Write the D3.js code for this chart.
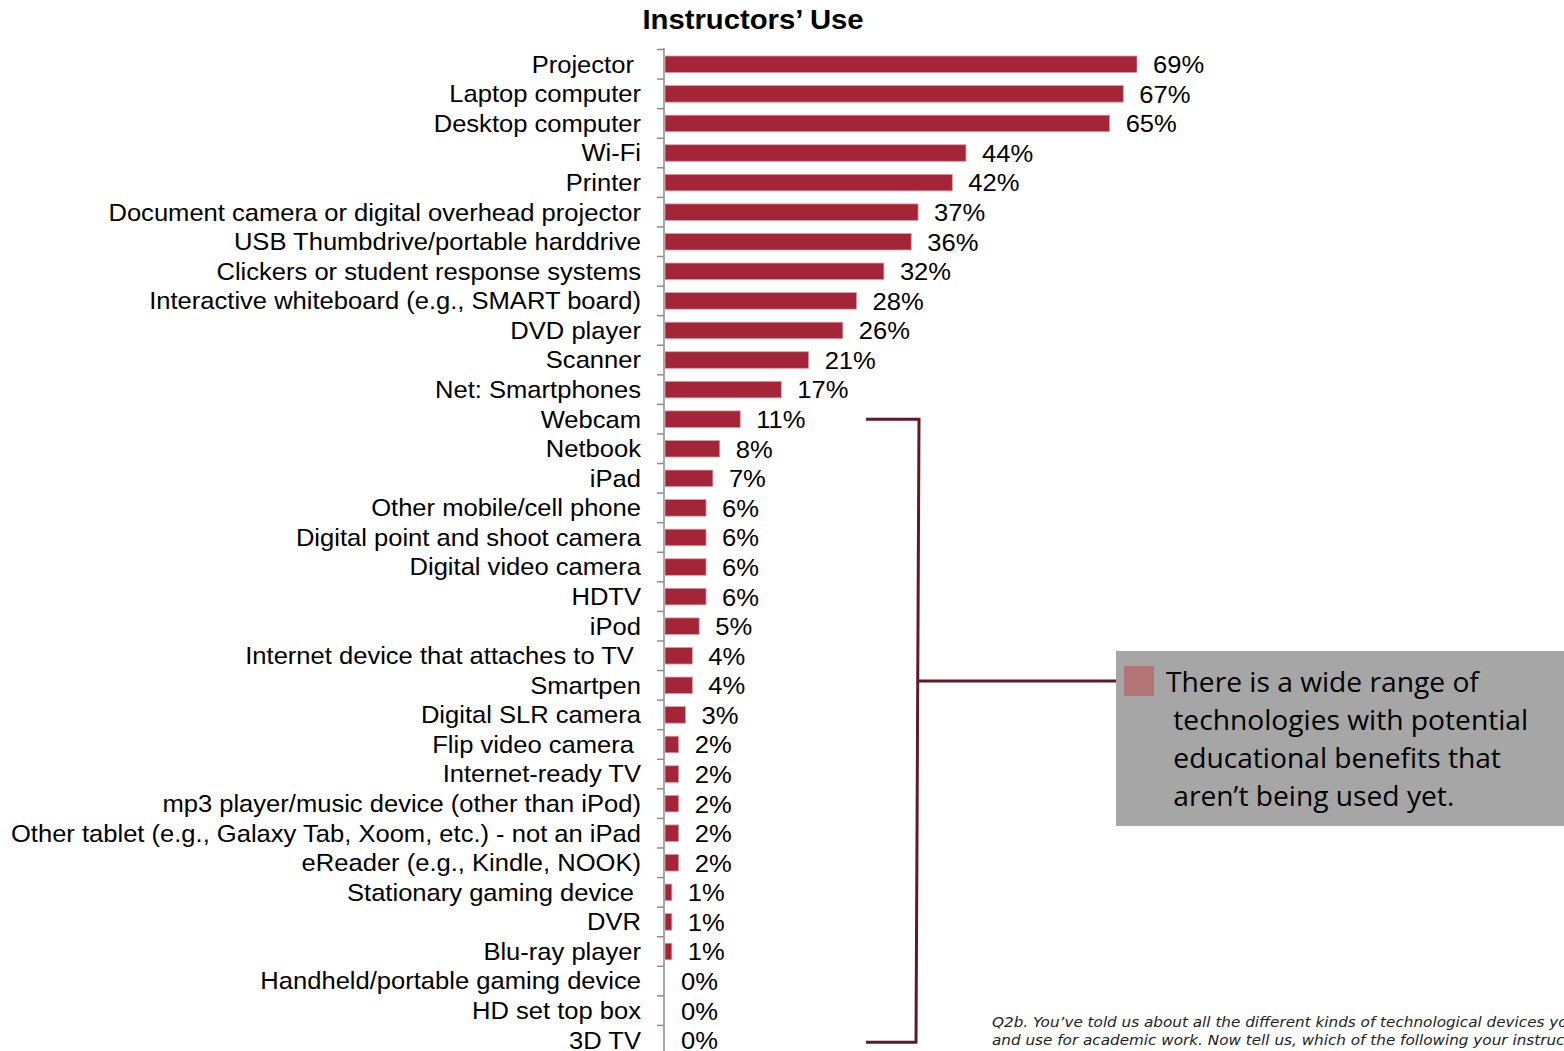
<!DOCTYPE html>
<html>
<head>
<meta charset="utf-8">
<script src="https://cdn.jsdelivr.net/npm/d3@7"></script>
<style>
  html, body { margin: 0; padding: 0; background: #fff; overflow: hidden; }
  svg { display: block; }
</style>
</head>
<body>
<svg id="chart" width="1564" height="1051"></svg>
<script>
// Devices instructors use, share of respondents (%)
const categories = [
  "Projector\u00a0", "Laptop computer", "Desktop computer", "Wi-Fi", "Printer",
  "Document camera or digital overhead projector", "USB Thumbdrive/portable harddrive",
  "Clickers or student response systems", "Interactive whiteboard (e.g., SMART board)",
  "DVD player", "Scanner", "Net: Smartphones", "Webcam", "Netbook", "iPad",
  "Other mobile/cell phone", "Digital point and shoot camera", "Digital video camera",
  "HDTV", "iPod", "Internet device that attaches to TV\u00a0", "Smartpen",
  "Digital SLR camera", "Flip video camera\u00a0", "Internet-ready TV",
  "mp3 player/music device (other than iPod)",
  "Other tablet (e.g., Galaxy Tab, Xoom, etc.) - not an iPad",
  "eReader (e.g., Kindle, NOOK)", "Stationary gaming device\u00a0", "DVR",
  "Blu-ray player", "Handheld/portable gaming device", "HD set top box", "3D TV"
];
const values = [69, 67, 65, 44, 42, 37, 36, 32, 28, 26, 21, 17, 11, 8, 7, 6, 6, 6, 6, 5,
  4, 4, 3, 2, 2, 2, 2, 2, 1, 1, 1, 0, 0, 0];

const title = "Instructors’ Use";
const calloutLines = [
  "There is a wide range of",
  " technologies with potential",
  " educational benefits that",
  " aren’t being used yet."
];
const footnoteLines = [
  "Q2b. You’ve told us about all the different kinds of technological devices you own",
  "and use for academic work. Now tell us, which of the following your instructors use."
];

const svg = d3.select("#chart");
const font = "'Liberation Sans', Arial, sans-serif";
const barColor = "#a32537";
const SX = 1.065; // slightly wide lettering

// place a text at (x, y) with horizontal stretch
function place(sel, fx, fy, sx = SX) {
  sel.attr("transform", (d, i) => `translate(${fx(d, i)},${fy(d, i)}) scale(${sx},1)`);
}

const x = d3.scaleLinear().domain([0, 69]).range([665, 1137]);
const y = d3.scaleBand().domain(categories).range([49.5, 1055]).paddingInner(0.44).paddingOuter(0.22);

// Title
svg.append("text")
  .attr("text-anchor", "middle")
  .attr("font-family", font).attr("font-weight", "bold").attr("font-size", 27.5)
  .attr("fill", "#000")
  .text(title)
  .call(place, () => 753, () => 29);

// Category axis on the left edge of the bars
const axis = d3.axisLeft(y).tickSize(0).tickFormat("");
const axisG = svg.append("g").attr("transform", "translate(664,0)").call(axis);
axisG.select(".domain").remove();
axisG.append("line").attr("x1", 0).attr("x2", 0).attr("y1", 48).attr("y2", 1051)
  .attr("stroke", "#8c8c8c").attr("stroke-width", 1.5);

// Tick marks between rows
const step = y.step();
const firstEdge = y(categories[0]) - step * y.paddingInner() / 2;
svg.append("g").selectAll("line").data(d3.range(categories.length + 1))
  .join("line")
  .attr("x1", 657).attr("x2", 664)
  .attr("y1", i => firstEdge + i * step)
  .attr("y2", i => firstEdge + i * step)
  .attr("stroke", "#8c8c8c").attr("stroke-width", 1.5);

// Category labels
svg.append("g").selectAll("text").data(categories)
  .join("text")
  .attr("dy", "0.35em")
  .attr("text-anchor", "end")
  .attr("font-family", font).attr("font-size", 24)
  .attr("fill", "#000")
  .text(d => d)
  .call(place, () => 641, d => y(d) + y.bandwidth() / 2);

// Bars
svg.append("g").selectAll("rect").data(values)
  .join("rect")
  .attr("x", x(0))
  .attr("y", (d, i) => y(categories[i]))
  .attr("width", d => x(d) - x(0))
  .attr("height", y.bandwidth())
  .attr("fill", barColor)
  .attr("stroke", d => d > 0 ? "#d9a0a8" : "none")
  .attr("stroke-width", 0.8);

// Value labels
svg.append("g").selectAll("text").data(values)
  .join("text")
  .attr("dy", "0.37em")
  .attr("font-family", font).attr("font-size", 24)
  .attr("fill", "#000")
  .text(d => d + "%")
  .call(place, d => x(d) + 16, (d, i) => y(categories[i]) + y.bandwidth() / 2);

// Bracket grouping the low-use devices
const yTop = y("Webcam") + y.bandwidth() / 2;
const yBot = y("3D TV") + y.bandwidth() / 2 + 2;
const bracketColor = "#5e1a26";
svg.append("path")
  .attr("d", `M866,${yTop} L919,${yTop} L916,${yBot} L866,${yBot}`)
  .attr("fill", "none").attr("stroke", bracketColor).attr("stroke-width", 3);
svg.append("line")
  .attr("x1", 918).attr("x2", 1128).attr("y1", 681).attr("y2", 681)
  .attr("stroke", bracketColor).attr("stroke-width", 3);

// Callout box
svg.append("rect").attr("x", 1116).attr("y", 651).attr("width", 448).attr("height", 175)
  .attr("fill", "#a6a6a6");
svg.append("rect").attr("x", 1124).attr("y", 666).attr("width", 30).attr("height", 30)
  .attr("fill", "#b27474");
svg.append("g").selectAll("text").data(calloutLines)
  .join("text")
  .attr("font-family", "'Open Sans', 'Noto Sans', sans-serif").attr("font-size", 27)
  .attr("fill", "#000")
  .attr("xml:space", "preserve")
  .text(d => d)
  .call(place, () => 1166, (d, i) => 692 + i * 38, 1.044);

// Footnote
svg.append("g").selectAll("text").data(footnoteLines)
  .join("text")
  .attr("font-family", "'DejaVu Sans', sans-serif").attr("font-style", "italic").attr("font-size", 14.5)
  .attr("fill", "#222")
  .text(d => d)
  .call(place, () => 992, (d, i) => 1027 + i * 18, 1.05);
</script>
</body>
</html>
